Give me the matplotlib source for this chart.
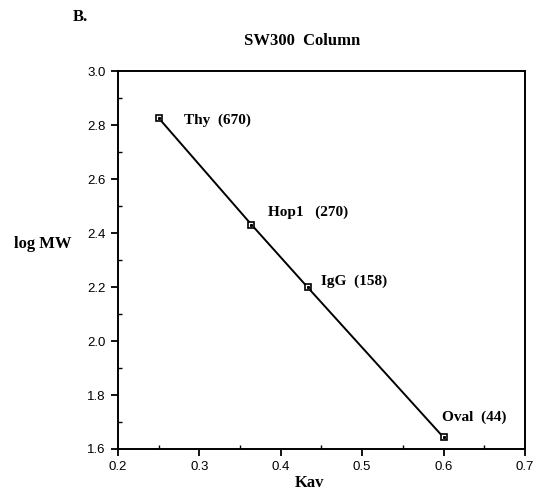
import matplotlib
matplotlib.use("Agg")
import matplotlib.pyplot as plt
from matplotlib.ticker import MultipleLocator

# data
proteins = ["Thy  (670)", "Hop1   (270)", "IgG  (158)", "Oval  (44)"]
kav = [0.25, 0.364, 0.433, 0.60]
log_mw = [2.826, 2.431, 2.199, 1.643]
# label offsets from each marker, in pixels
label_dx = [25, 17, 13, -2]
label_dy = [-2, 12, 6, 20]

serif = "Liberation Serif"
sans = "Liberation Sans"

fig = plt.figure(figsize=(5.34, 4.97), dpi=100)
ax = fig.add_axes([0.221, 0.0966, 0.762, 0.7604])

ax.plot(kav, log_mw, color="black", lw=1.4, marker="s", ms=5,
        mfc="white", mec="black", mew=1.2, zorder=3)
ax.plot(kav, log_mw, ls="none", marker="s", ms=1.2, color="black", zorder=4)

for name, x, y, dx, dy in zip(proteins, kav, log_mw, label_dx, label_dy):
    ax.annotate(name, (x, y), xytext=(dx, dy), textcoords="offset pixels",
                fontfamily=serif, fontweight="bold", fontsize=11,
                ha="left", va="center")

ax.set_xlim(0.2, 0.7)
ax.set_ylim(1.6, 3.0)
ax.xaxis.set_major_locator(MultipleLocator(0.1))
ax.xaxis.set_minor_locator(MultipleLocator(0.05))
ax.yaxis.set_major_locator(MultipleLocator(0.2))
ax.yaxis.set_minor_locator(MultipleLocator(0.1))
ax.tick_params(which="major", direction="out", length=5, width=1.3,
               labelsize=9.5, pad=4)
ax.tick_params(which="minor", direction="in", length=3, width=1.0)
for lab in ax.get_xticklabels() + ax.get_yticklabels():
    lab.set_fontfamily(sans)
for sp in ax.spines.values():
    sp.set_linewidth(1.4)

fig.text(0.58, 0.028, "Kav", fontfamily=serif, fontweight="bold",
         fontsize=12, ha="center", va="center")
fig.text(0.08, 0.51, "log MW", fontfamily=serif, fontweight="bold",
         fontsize=12, ha="center", va="center")
fig.text(0.565, 0.918, "SW300  Column", fontfamily=serif, fontweight="bold",
         fontsize=12, ha="center", va="center")
fig.text(0.137, 0.965, "B.", fontfamily=serif, fontweight="bold",
         fontsize=12, ha="left", va="center")

fig.savefig("out.png", dpi=100)
